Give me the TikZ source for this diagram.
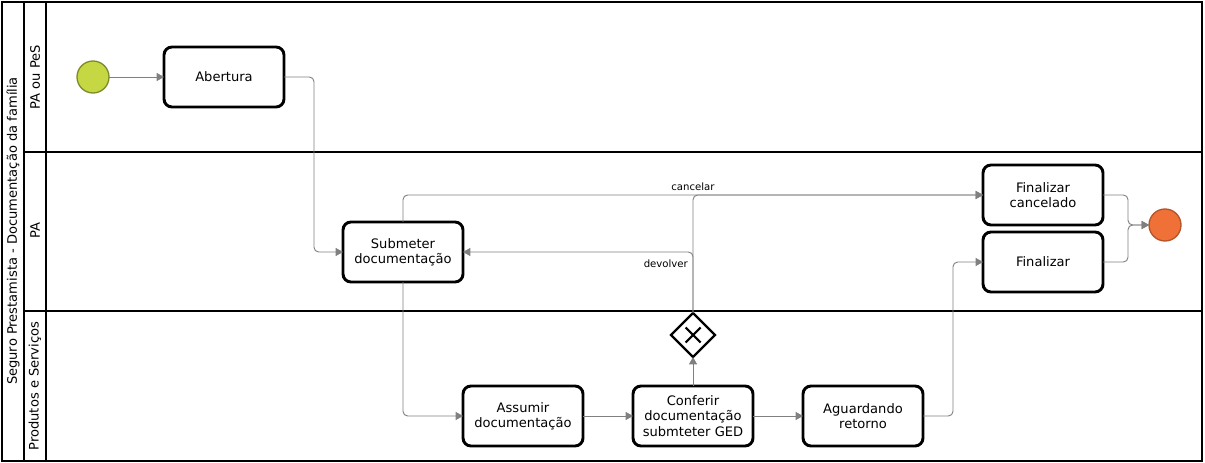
\documentclass[tikz,border=0pt]{standalone}
\usepackage{fontspec}
\setmainfont{DejaVu Sans}
\usetikzlibrary{positioning,arrows.meta,shapes.geometric}

\definecolor{startfill}{HTML}{C5D843}
\definecolor{startline}{HTML}{7D8B2B}
\definecolor{endfill}{HTML}{F07138}
\definecolor{endline}{HTML}{B5532A}
\definecolor{flowgray}{HTML}{808080}

\begin{document}
\begin{tikzpicture}[
x=0.75pt, y=-0.75pt,
taskbox/.style={rectangle, rounded corners=6pt, draw=black, line width=2.2pt, fill=white,
    minimum width=90pt, minimum height=45pt, align=center, inner sep=1pt, outer sep=0pt,
    font=\fontsize{9.8}{11.5}\selectfont},
startnode/.style={circle, draw=startline, fill=startfill, line width=1pt, minimum size=24pt, inner sep=0pt, outer sep=0pt},
endnode/.style={circle, draw=endline, fill=endfill, line width=1pt, minimum size=24pt, inner sep=0pt, outer sep=0pt},
gatenode/.style={diamond, draw=black, line width=1.8pt, fill=white, minimum size=33pt, inner sep=0pt, outer sep=0pt},
flow/.style={-{Triangle[length=5.5pt,width=6pt]}, draw=flowgray, line width=0.7pt, rounded corners=3.5pt},
flowlabel/.style={font=\fontsize{7.6}{8.5}\selectfont, inner sep=1.5pt, text=black},
lanetext/.style={rotate=90, font=\fontsize{9.8}{11.5}\selectfont},
node distance=37.5pt
]
    \useasboundingbox (0,0) rectangle (1205,463);

    %Pool and lanes
    \draw[line width=1.5pt] (2,2) rectangle (1202,461);
    \draw[line width=1.5pt] (24,2) -- (24,461);
    \draw[line width=1.5pt] (46,2) -- (46,461);
    \draw[line width=1.5pt] (24,152) -- (1202,152);
    \draw[line width=1.5pt] (24,311) -- (1202,311);
    \node[lanetext] (pool)  at (13,231) {Seguro Prestamista - Documentação da família};
    \node[lanetext] (lane1) at (35,77)  {PA ou PeS};
    \node[lanetext] (lane2) at (35,231) {PA};
    \node[lanetext] (lane3) at (35,386) {Produtos e Serviços};

    %Nodes
    \node[startnode]
        (inicio)                        at (93,77)   {};
    \node[taskbox]
        (abertura)  [right=41.25pt of inicio]        {Abertura};
    \node[taskbox]
        (submeter)                      at (403,252) {Submeter\\documentação};
    \node[taskbox]
        (assumir)                       at (523,416) {Assumir\\documentação};
    \node[taskbox]
        (conferir)  [right=of assumir]               {Conferir\\documentação\\submteter GED};
    \node[taskbox]
        (aguardando) [right=of conferir]             {Aguardando\\retorno};
    \node[gatenode]
        (gate)                          at (693,335) {};
    \node[taskbox]
        (fincancel)                     at (1043,195) {Finalizar\\cancelado};
    \node[taskbox]
        (finalizar) [below=5.25pt of fincancel]      {Finalizar};
    \node[endnode]
        (fim)                           at (1165,225) {};

    %Gateway mark
    \draw[line width=1.6pt] ([shift={(-7.5,-7.5)}]gate.center) -- ([shift={(7.5,7.5)}]gate.center);
    \draw[line width=1.6pt] ([shift={(-7.5,7.5)}]gate.center) -- ([shift={(7.5,-7.5)}]gate.center);

    %Lines
    \draw[flow] (inicio.east) -- (abertura.west);
    \draw[flow] (abertura.east) -- ++(30,0) |- (submeter.west);
    \draw[flow] (submeter.south) |- (assumir.west);
    \draw[flow] (assumir.east) -- (conferir.west);
    \draw[flow] (conferir.east) -- (aguardando.west);
    \draw[flow] (conferir.north) -- (gate.south);
    \draw[flow] (gate.north) |- (submeter.east)
        node[flowlabel, pos=0.5, anchor=north east, xshift=-2pt, yshift=-4pt] {devolver};
    \draw[flow] (gate.north) |- (fincancel.west)
        node[flowlabel, pos=0.5, above, yshift=1.5pt] {cancelar};
    \draw[flow] (submeter.north) |- (fincancel.west);
    \draw[flow] (aguardando.east) -- ++(30,0) |- (finalizar.west);
    \draw[flow] (fincancel.east) -- ++(25,0) |- (fim.west);
    \draw[flow] (finalizar.east) -- ++(25,0) |- (fim.west);
\end{tikzpicture}
\end{document}
